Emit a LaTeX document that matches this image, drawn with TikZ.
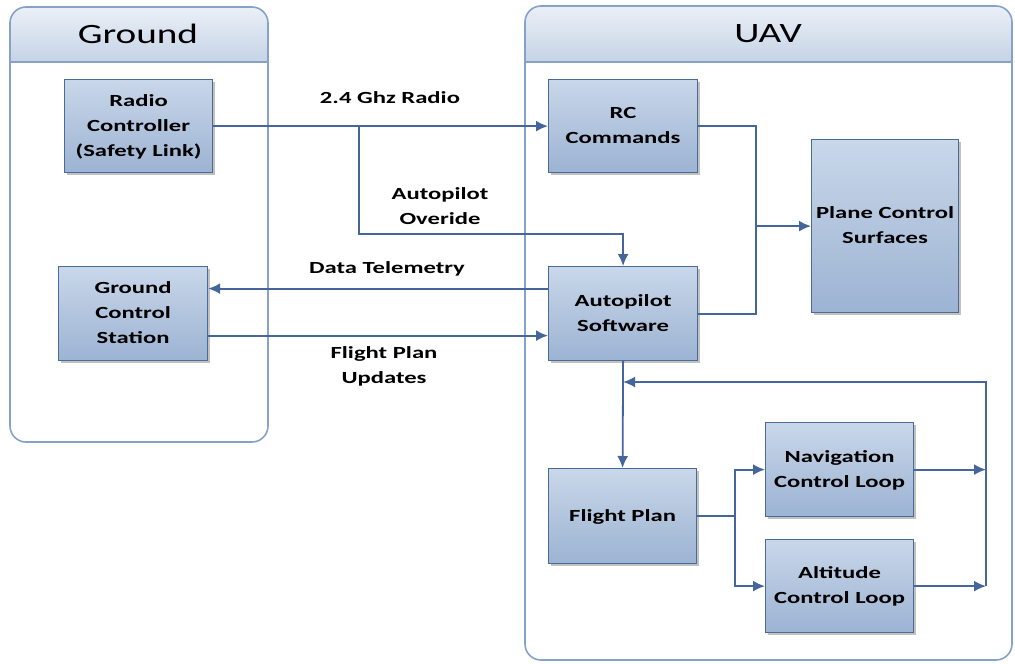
\documentclass[tikz,border=0pt]{standalone}
\usepackage{fontspec}
\setmainfont{Carlito}
\usetikzlibrary{arrows.meta,shadows}

% wide lettering: text is set at 17pt and stretched sideways
\newcommand{\wtxt}[1]{\scalebox{1.45}[1]{\fontsize{17}{25}\selectfont\bfseries\begin{tabular}{@{}c@{}}#1\end{tabular}}}
\newcommand{\ttl}[1]{\scalebox{1.4}[1]{\fontsize{28}{32}\selectfont #1}}

\definecolor{boxtop}{HTML}{C9D7E9}
\definecolor{boxbot}{HTML}{9CB3D3}
\definecolor{boxline}{HTML}{4A6A98}
\definecolor{connline}{HTML}{44669A}
\definecolor{panline}{HTML}{86A2C8}
\definecolor{headtop}{HTML}{EBF0F7}
\definecolor{headbot}{HTML}{C5D3E6}

\tikzset{
  blk/.style={draw=boxline, line width=1.2pt, top color=boxtop, bottom color=boxbot,
    inner sep=0pt, anchor=north west,
    drop shadow={shadow xshift=2.5pt, shadow yshift=-2.5pt, opacity=0.35, fill=black!70}},
  conn/.style={draw=connline, line width=1.8pt},
  arr/.style={conn, -{Latex[length=12pt,width=11pt]}},
  lbl/.style={inner sep=0pt, text=black},
  panel/.style={draw=panline, line width=1.6pt, rounded corners=16pt},
}

\begin{document}
\begin{tikzpicture}[x=1pt,y=-1pt]
\useasboundingbox (0,0) rectangle (1015,664);

% ---- Ground panel ----
\shade[top color=headtop, bottom color=headbot]
  (10,62) [rounded corners=16pt] -- (10,7) -- (268,7) [sharp corners] -- (268,62) -- cycle;
\draw[panel] (10,7) rectangle (268,442);
\draw[draw=panline, line width=1.4pt] (10,62) -- (268,62);
\node[lbl] (gtitle) at (138,34) {\ttl{Ground}};

% ---- UAV panel ----
\shade[top color=headtop, bottom color=headbot]
  (525,62) [rounded corners=16pt] -- (525,6) -- (1012,6) [sharp corners] -- (1012,62) -- cycle;
\draw[panel] (525,6) rectangle (1012,660);
\draw[draw=panline, line width=1.4pt] (525,62) -- (1012,62);
\node[lbl] (utitle) at (768,34) {\ttl{UAV}};

% ---- blocks ----
\node[blk, minimum width=148pt, minimum height=93pt] (rc) at (64,79) {};
\node[lbl] at (rc.center) {\wtxt{Radio\\Controller\\(Safety Link)}};

\node[blk, minimum width=149pt, minimum height=94pt] (gcs) at (58,266) {};
\node[lbl] at (gcs.center) {\wtxt{Ground\\Control\\Station}};

\node[blk, minimum width=149pt, minimum height=93pt] (rcc) at (548,79) {};
\node[lbl] at (rcc.center) {\wtxt{RC\\Commands}};

\node[blk, minimum width=147pt, minimum height=173pt] (pcs) at (811,139) {};
\node[lbl] at (pcs.center) {\wtxt{Plane Control\\Surfaces}};

\node[blk, minimum width=149pt, minimum height=94pt] (ap) at (548,266) {};
\node[lbl] at (ap.center) {\wtxt{Autopilot\\Software}};

\node[blk, minimum width=148pt, minimum height=95pt] (fp) at (548,468) {};
\node[lbl] at (fp.center) {\wtxt{Flight Plan}};

\node[blk, minimum width=148pt, minimum height=94pt] (nav) at (765,422) {};
\node[lbl] at (nav.center) {\wtxt{Navigation\\Control Loop}};

\node[blk, minimum width=148pt, minimum height=93pt] (alt) at (765,539) {};
\node[lbl] at (alt.center) {\wtxt{Altitude\\Control Loop}};

% ---- junction points ----
\coordinate (rj) at (359,125.5);
\coordinate (rk) at (359,234);
\coordinate (mj) at (756,0);
\coordinate (sj) at (735,0);
\coordinate (lj) at (986,382);

% ---- radio links ----
\draw[arr] (rc.east) -- (rcc.west);
\draw[arr] (rj) -- (rk) -| (ap.north);
\node[lbl] (l1) at (390,98) {\wtxt{2.4 Ghz Radio}};
\node[lbl] (l2) at (440,207) {\wtxt{Autopilot\\Overide}};

% ---- telemetry and plan updates ----
\draw[arr] ([yshift=25pt]ap.west) -- ([yshift=25pt]gcs.east);
\draw[arr] ([yshift=-22pt]gcs.east) -- ([yshift=-22pt]ap.west);
\node[lbl] (l3) at (387,268) {\wtxt{Data Telemetry}};
\node[lbl] (l4) at (384,366) {\wtxt{Flight Plan\\Updates}};

% ---- commands to control surfaces ----
\draw[conn] (rcc.east) -| (mj |- pcs.west);
\draw[conn] (ap.east) -| (mj |- pcs.west);
\draw[arr] (mj |- pcs.west) -- (pcs.west);

% ---- autopilot to flight plan ----
\draw[arr] (ap.south) -- (fp.north);

% ---- flight plan to control loops ----
\draw[conn] (fp.east) -- (fp.east -| sj);
\draw[arr] (fp.east -| sj) |- (nav.west);
\draw[arr] (fp.east -| sj) |- (alt.west);

% ---- feedback loop ----
\draw[arr] (nav.east) -- (nav.east -| lj);
\draw[arr] (alt.east) -- (alt.east -| lj);
\draw[arr] (alt.east -| lj) -- (lj) -- (lj -| ap.south);
\end{tikzpicture}
\end{document}
